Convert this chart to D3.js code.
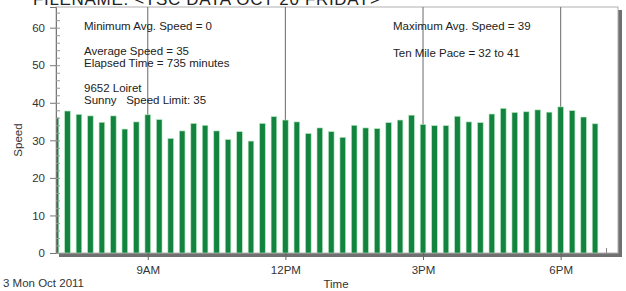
<!DOCTYPE html>
<html>
<head>
<meta charset="utf-8">
<script src="https://cdn.jsdelivr.net/npm/d3@7"></script>
<style>
body { margin: 0; background: #fff; }
svg { display: block; font-family: "Liberation Sans", Arial, sans-serif; }
</style>
</head>
<body>
<div id="chart"></div>
<script>
// data
const day = '2011-10-03';
const times = [
    '07:00', '07:15', '07:30', '07:45', '08:00', '08:15', '08:30', '08:45',
    '09:00', '09:15', '09:30', '09:45', '10:00', '10:15', '10:30', '10:45',
    '11:00', '11:15', '11:30', '11:45', '12:00', '12:15', '12:30', '12:45',
    '13:00', '13:15', '13:30', '13:45', '14:00', '14:15', '14:30', '14:45',
    '15:00', '15:15', '15:30', '15:45', '16:00', '16:15', '16:30', '16:45',
    '17:00', '17:15', '17:30', '17:45', '18:00', '18:15', '18:30', '18:45'
];
const speeds = [
    36.1, 37.8, 36.9, 36.5, 34.8, 36.5, 33.0, 34.9,
    36.8, 35.5, 30.5, 32.5, 34.5, 34.0, 32.5, 30.2,
    32.3, 29.8, 34.5, 36.3, 35.4, 34.9, 31.8, 33.3,
    32.3, 30.8, 34.0, 33.3, 33.1, 34.7, 35.4, 36.7,
    34.2, 33.9, 33.9, 36.4, 34.9, 34.7, 37.0, 38.5,
    37.4, 37.6, 38.1, 37.5, 38.9, 37.9, 36.2, 34.4
];
const timeStart = '07:00';
const timeEnd = '19:15';
const yTicks = [0, 10, 20, 30, 40, 50, 60];
const xTicks = ['09:00', '12:00', '15:00', '18:00'];
const title = 'FILENAME: <TSC DATA OCT 20 FRIDAY>';
const dateLabel = '3 Mon Oct 2011';
const leftNotes = ['Minimum Avg. Speed = 0', '', 'Average Speed = 35', 'Elapsed Time = 735 minutes', '',
    '9652 Loiret', 'Sunny   Speed Limit: 35'];
const rightNotes = ['Maximum Avg. Speed = 39', '', 'Ten Mile Pace = 32 to 41'];

const W = 626, H = 291;
const plot = {left: 56, right: 618, top: 7, bottom: 253};
const parse = d3.timeParse('%Y-%m-%d %H:%M');
const t = (s) => parse(day + ' ' + s);

const svg = d3.select('#chart')
    .append('svg')
    .attr('width', W)
    .attr('height', H);

const x = d3.scaleTime()
    .domain([t(timeStart), t(timeEnd)])
    .range([plot.left, plot.right]);
const y = d3.scaleLinear()
    .domain([0, 65.5])
    .range([plot.bottom, plot.top]);

// title, mostly cut off by the top edge (as in the source)
svg.append('text')
    .attr('x', 33)
    .attr('y', 5)
    .attr('font-size', 17)
    .attr('fill', '#222')
    .attr('textLength', 347)
    .attr('lengthAdjust', 'spacing')
    .text(title);

// drop shadow of the frame
svg.append('rect')
    .attr('x', plot.right).attr('y', plot.top + 3)
    .attr('width', 4).attr('height', plot.bottom - plot.top + 1)
    .attr('fill', '#707070');
svg.append('rect')
    .attr('x', plot.left + 3).attr('y', plot.bottom)
    .attr('width', plot.right - plot.left + 1).attr('height', 4)
    .attr('fill', '#707070');

// frame
svg.append('rect')
    .attr('x', plot.left).attr('y', plot.top)
    .attr('width', plot.right - plot.left).attr('height', plot.bottom - plot.top)
    .attr('fill', '#fff')
    .attr('stroke', '#b0b0b0')
    .attr('stroke-width', 1);

// vertical lines at the hour ticks
svg.append('g')
    .selectAll('line')
    .data(xTicks)
    .enter()
    .append('line')
    .attr('x1', (d) => x(t(d)))
    .attr('x2', (d) => x(t(d)))
    .attr('y1', plot.top)
    .attr('y2', plot.bottom)
    .attr('stroke', '#777')
    .attr('stroke-width', 1.1);

svg.append('clipPath')
    .attr('id', 'clip')
    .append('rect')
    .attr('x', plot.left).attr('y', plot.top)
    .attr('width', plot.right - plot.left).attr('height', plot.bottom - plot.top);

const barW = 5.6;
svg.append('g')
    .attr('clip-path', 'url(#clip)')
    .selectAll('rect')
    .data(times)
    .enter()
    .append('rect')
    .attr('x', (d) => x(t(d)) - barW / 2)
    .attr('y', (d, i) => y(speeds[i]))
    .attr('width', barW)
    .attr('height', (d, i) => y(0) - y(speeds[i]))
    .attr('fill', '#138440')
    .attr('stroke', '#b3e6bc')
    .attr('stroke-width', 0.6);

// small inner tick at the end of the run
svg.append('line')
    .attr('x1', x(t('19:00'))).attr('x2', x(t('19:00')))
    .attr('y1', plot.bottom - 5).attr('y2', plot.bottom)
    .attr('stroke', '#888');

// y axis: major ticks outside, minor inside
const yAxis = svg.append('g')
    .attr('transform', `translate(${plot.left},0)`)
    .call(d3.axisLeft(y).tickValues(yTicks).tickSize(6).tickPadding(5).tickFormat(d3.format('d')));
yAxis.select('.domain').attr('stroke', '#777');
yAxis.selectAll('.tick line').attr('stroke', '#777');
yAxis.selectAll('.tick text')
    .attr('font-size', 11.5)
    .attr('fill', '#333')
    .attr('font-family', '"Liberation Sans", Arial, sans-serif');

const yMinor = svg.append('g')
    .attr('transform', `translate(${plot.left},0)`)
    .call(d3.axisRight(y).tickValues(d3.range(0, 66, 2)).tickSize(4).tickFormat(''));
yMinor.select('.domain').remove();
yMinor.selectAll('.tick line').attr('stroke', '#999');

// x axis
const xAxis = svg.append('g')
    .attr('transform', `translate(0,${plot.bottom})`)
    .call(d3.axisBottom(x).tickValues(xTicks.map(t)).tickSize(7).tickPadding(6)
        .tickFormat(d3.timeFormat('%-I%p')));
xAxis.select('.domain').remove();
xAxis.selectAll('.tick line').attr('stroke', '#666');
xAxis.selectAll('.tick text')
    .attr('font-size', 11.5)
    .attr('fill', '#333')
    .attr('font-family', '"Liberation Sans", Arial, sans-serif');

// axis titles
svg.append('text')
    .attr('transform', 'translate(22,140) rotate(-90)')
    .attr('text-anchor', 'middle')
    .attr('font-size', 11.5)
    .attr('fill', '#333')
    .text('Speed');
svg.append('text')
    .attr('x', 336)
    .attr('y', 288)
    .attr('text-anchor', 'middle')
    .attr('font-size', 11.5)
    .attr('fill', '#333')
    .text('Time');
svg.append('text')
    .attr('x', 3)
    .attr('y', 287)
    .attr('font-size', 11.5)
    .attr('fill', '#333')
    .text(dateLabel);

// notes inside the plot
const lineH = 12.3;
svg.append('g')
    .selectAll('text')
    .data(leftNotes)
    .enter()
    .append('text')
    .attr('x', 84)
    .attr('y', (d, i) => 30 + i * lineH)
    .attr('font-size', 11.5)
    .attr('fill', '#222')
    .attr('xml:space', 'preserve')
    .style('white-space', 'pre')
    .text((d) => d);
svg.append('g')
    .selectAll('text')
    .data(rightNotes)
    .enter()
    .append('text')
    .attr('x', 393)
    .attr('y', (d, i) => 30 + i * 13.3)
    .attr('font-size', 11.5)
    .attr('fill', '#222')
    .text((d) => d);
</script>
</body>
</html>
